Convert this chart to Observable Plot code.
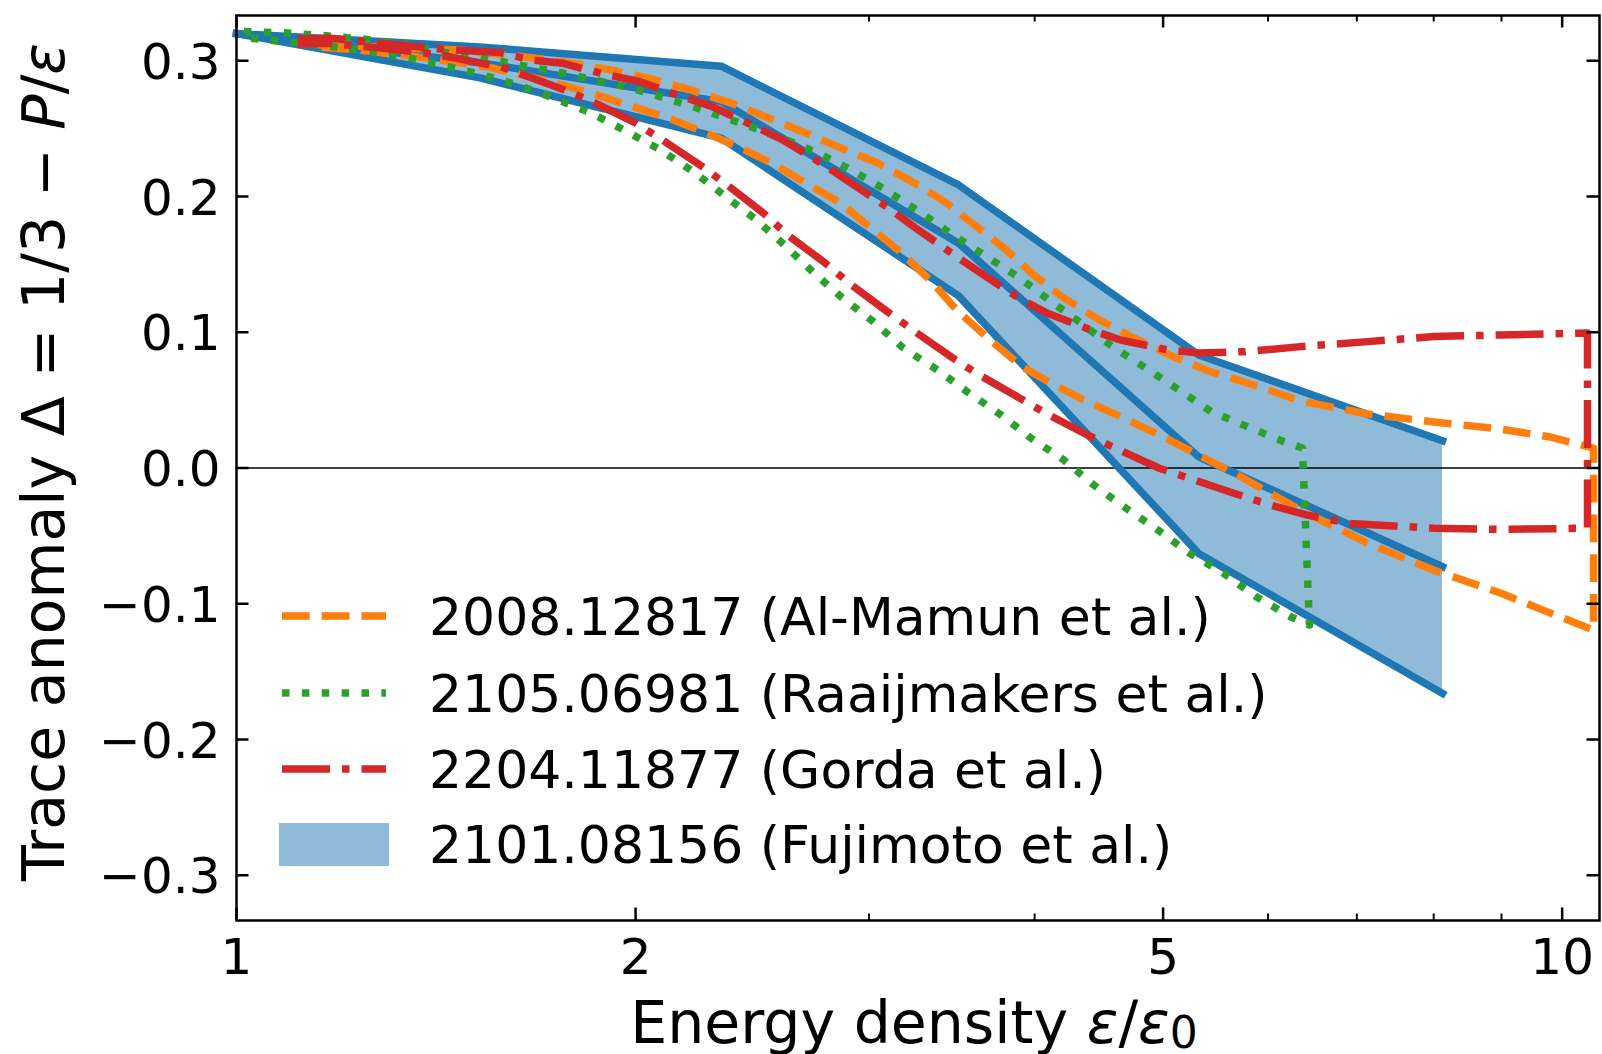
<!DOCTYPE html>
<html>
<head>
<meta charset="utf-8">
<script src="https://cdn.jsdelivr.net/npm/d3@7"></script>
<script src="https://cdn.jsdelivr.net/npm/@observablehq/plot@0.6"></script>
<style>
  html, body { margin: 0; padding: 0; background: #fff; }
  svg { display: block; }
</style>
</head>
<body>
<div id="chart"></div>
<script>
// ---------------- data ----------------
const xMajor = [1, 2, 5, 10];
const xMinor = [3, 4, 6, 7, 8, 9];
const yTicks = [-0.3, -0.2, -0.1, 0, 0.1, 0.2, 0.3];

const legendLabels = [
  "2008.12817 (Al-Mamun et al.)",
  "2105.06981 (Raaijmakers et al.)",
  "2204.11877 (Gorda et al.)",
  "2101.08156 (Fujimoto et al.)"
];

// Al-Mamun et al. band edges
const alMamunUpper = [[1.152,0.3117],[1.476,0.3080],[1.676,0.3021],[1.808,0.2976],[1.916,0.2933],[2.054,0.2867],[2.200,0.2786],[2.358,0.2690],[2.497,0.2594],[2.665,0.2483],[2.855,0.2358],[3.044,0.2248],[3.225,0.2115],[3.415,0.1968],[3.579,0.1813],[3.793,0.1621],[3.994,0.1422],[4.208,0.1253],[4.463,0.1098],[4.752,0.0958],[5.093,0.0818],[5.436,0.0707],[5.820,0.0619],[6.347,0.0494],[7.130,0.0398],[8.000,0.0339],[8.984,0.0287],[9.799,0.0228],[10.56,0.0147]];
const alMamunLower = [[1.152,0.3102],[1.234,0.3080],[1.353,0.3036],[1.547,0.2955],[1.726,0.2844],[1.850,0.2763],[1.983,0.2667],[2.115,0.2579],[2.251,0.2476],[2.400,0.2358],[2.540,0.2240],[2.696,0.2093],[2.855,0.1953],[3.008,0.1769],[3.168,0.1592],[3.340,0.1379],[3.499,0.1157],[3.688,0.0958],[3.906,0.0752],[4.114,0.0626],[4.356,0.0501],[4.670,0.0368],[5.004,0.0228],[5.338,0.0088],[5.725,-0.0066],[6.347,-0.0310],[7.130,-0.0553],[8.000,-0.0752],[8.984,-0.0921],[9.799,-0.1069],[10.56,-0.1194]];

// Raaijmakers et al. band edges
const raaijUpper = [[1.013,0.3215],[1.084,0.3206],[1.162,0.3186],[1.245,0.3161],[1.330,0.3125],[1.421,0.3066],[1.520,0.3031],[1.629,0.2970],[1.741,0.2920],[1.860,0.2859],[1.983,0.2800],[2.126,0.2712],[2.266,0.2626],[2.421,0.2528],[2.576,0.2432],[2.744,0.2321],[2.908,0.2196],[3.087,0.2049],[3.273,0.1889],[3.470,0.1717],[3.662,0.1570],[3.884,0.1410],[4.100,0.1238],[4.334,0.1069],[4.579,0.0894],[4.851,0.0737],[5.140,0.0575],[5.436,0.0415],[5.796,0.0302],[6.166,0.0194],[6.369,0.0147]];
const raaijLower = [[1.016,0.3169],[1.089,0.3141],[1.168,0.3110],[1.247,0.3075],[1.335,0.3029],[1.426,0.2970],[1.523,0.2903],[1.629,0.2822],[1.734,0.2726],[1.850,0.2616],[1.959,0.2491],[2.089,0.2343],[2.212,0.2181],[2.330,0.2012],[2.462,0.1835],[2.590,0.1643],[2.719,0.1447],[2.864,0.1253],[3.023,0.1078],[3.184,0.0884],[3.379,0.0722],[3.568,0.0553],[3.773,0.0391],[3.973,0.0221],[4.208,0.0059],[4.432,-0.0125],[4.686,-0.0295],[4.956,-0.0457],[5.231,-0.0626],[5.549,-0.0774],[5.877,-0.0948],[6.240,-0.1096],[6.447,-0.1157]];

// Gorda et al. band edges
const gordaUpper = [[1.112,0.3161],[1.178,0.3165],[1.247,0.3141],[1.323,0.3117],[1.401,0.3093],[1.484,0.3075],[1.582,0.3060],[1.667,0.3007],[1.761,0.2982],[1.904,0.2896],[2.013,0.2847],[2.169,0.2736],[2.285,0.2662],[2.462,0.2515],[2.582,0.2417],[2.774,0.2233],[2.908,0.2098],[3.105,0.1914],[3.255,0.1766],[3.478,0.1570],[3.643,0.1435],[3.893,0.1251],[4.090,0.1140],[4.410,0.1017],[4.645,0.0943],[5.037,0.0870],[5.320,0.0848],[5.770,0.0857],[6.347,0.0894],[7.130,0.0931],[8.000,0.0968],[8.984,0.0980],[10.32,0.0993],[10.45,0.0995]];
const gordaLower = [[1.112,0.3124],[1.178,0.3128],[1.285,0.3093],[1.360,0.3068],[1.443,0.3031],[1.528,0.2982],[1.582,0.2957],[1.633,0.2909],[1.766,0.2786],[1.855,0.2699],[2.001,0.2540],[2.095,0.2417],[2.246,0.2220],[2.345,0.2085],[2.498,0.1877],[2.604,0.1717],[2.782,0.1508],[2.899,0.1361],[3.097,0.1152],[3.236,0.1017],[3.458,0.0820],[3.622,0.0693],[3.882,0.0525],[4.078,0.0403],[4.384,0.0243],[4.605,0.0145],[4.967,-0.0002],[5.233,-0.0076],[5.654,-0.0186],[6.026,-0.0273],[6.425,-0.0347],[6.922,-0.0408],[8.000,-0.0444],[8.984,-0.0452],[10.38,-0.0444],[10.45,-0.0442]];

// Fujimoto et al. band
const fujimotoX   = [1, 1.526, 2.321, 3.505, 5.318, 8.123];
const fujimotoHi  = [0.320, 0.3102, 0.2960, 0.2085, 0.0833, 0.0201];
const fujimotoMid = [0.320, 0.2985, 0.2699, 0.1656, 0.0083, -0.0727];
const fujimotoLo  = [0.320, 0.2874, 0.2430, 0.1268, -0.0629, -0.1660];

// ---------------- build tables ----------------
const contour = (upper, lower) =>
  [...upper, ...lower.slice().reverse()].map(([x, y]) => ({x, y}));
const alMamun = contour(alMamunUpper, alMamunLower);
const raaij = contour(raaijUpper, raaijLower);
const gorda = contour(gordaUpper, gordaLower);
const fujimoto = fujimotoX.map((x, i) => ({x, hi: fujimotoHi[i], mid: fujimotoMid[i], lo: fujimotoLo[i]}));

// ---------------- layout / style ----------------
const W = 1602, H = 1054;
const mL = 236, mR = 3, mT = 15, mB = 134;
const frameW = W - mL - mR, frameH = H - mT - mB;
const FONT = "DejaVu Sans";
const LW = 7.5;
const C = {orange: "#ff7f0e", green: "#2ca02c", red: "#d62728", blue: "#1f77b4"};
const DASH = {
  dashed: `${3.7*LW} ${1.6*LW}`,
  dotted: `${1*LW} ${1.65*LW}`,
  dashdot: `${6.4*LW} ${1.6*LW} ${1*LW} ${1.6*LW}`
};
const fmtY = d => (d < 0 ? "\u2212" : "") + Math.abs(d).toFixed(1);
const majorLen = 12.5, minorLen = 6.5;

const plot = Plot.plot({
  width: W, height: H,
  marginLeft: mL, marginRight: mR, marginTop: mT, marginBottom: mB,
  x: {type: "log", domain: [1, 10.67], axis: null},
  y: {domain: [-1/3, 1/3], axis: null},
  style: {fontFamily: FONT, background: "white", color: "black", overflow: "visible"},
  marks: [
    Plot.areaY(fujimoto, {x: "x", y1: "lo", y2: "hi", fill: C.blue, fillOpacity: 0.5}),
    Plot.ruleY([0], {stroke: "black", strokeWidth: 1.5}),
    Plot.line(fujimoto, {x: "x", y: "hi", stroke: C.blue, strokeWidth: LW, strokeLinecap: "square", strokeLinejoin: "round"}),
    Plot.line(fujimoto, {x: "x", y: "mid", stroke: C.blue, strokeWidth: LW, strokeLinecap: "square", strokeLinejoin: "round"}),
    Plot.line(fujimoto, {x: "x", y: "lo", stroke: C.blue, strokeWidth: LW, strokeLinecap: "square", strokeLinejoin: "round"}),
    Plot.line(alMamun, {x: "x", y: "y", stroke: C.orange, strokeWidth: LW, strokeDasharray: DASH.dashed, strokeLinecap: "butt", strokeLinejoin: "round", clip: true}),
    Plot.line(raaij, {x: "x", y: "y", stroke: C.green, strokeWidth: LW, strokeDasharray: DASH.dotted, strokeLinecap: "butt", strokeLinejoin: "round", clip: true}),
    Plot.line(gorda, {x: "x", y: "y", stroke: C.red, strokeWidth: LW, strokeDasharray: DASH.dashdot, strokeLinecap: "butt", strokeLinejoin: "round", clip: true}),
    Plot.frame({stroke: "black", strokeWidth: 2.5}),
    // inward ticks, all four sides
    Plot.tickX(xMajor, {x: d => d, stroke: "black", strokeWidth: 2.5, insetTop: frameH - majorLen}),
    Plot.tickX(xMajor, {x: d => d, stroke: "black", strokeWidth: 2.5, insetBottom: frameH - majorLen}),
    Plot.tickX(xMinor, {x: d => d, stroke: "black", strokeWidth: 2, insetTop: frameH - minorLen}),
    Plot.tickX(xMinor, {x: d => d, stroke: "black", strokeWidth: 2, insetBottom: frameH - minorLen}),
    Plot.tickY(yTicks, {y: d => d, stroke: "black", strokeWidth: 2.5, insetRight: frameW - majorLen}),
    Plot.tickY(yTicks, {y: d => d, stroke: "black", strokeWidth: 2.5, insetLeft: frameW - majorLen}),
    // tick labels
    Plot.text(xMajor, {x: d => d, frameAnchor: "bottom", lineAnchor: "top", dy: 17.5, text: d => String(d), fontSize: 50, fill: "black"}),
    Plot.text(yTicks, {y: d => d, frameAnchor: "left", textAnchor: "end", dx: -16, dy: 2, text: fmtY, fontSize: 50, fill: "black"})
  ]
});

document.getElementById("chart").appendChild(plot);

// ---------------- axis titles and legend ----------------
const svg = d3.select(plot);
const g = svg.append("g")
  .attr("font-family", FONT)
  .attr("fill", "black")
  .attr("text-anchor", "start")
  .style("white-space", "pre");

// y-axis label
const yl = g.append("text")
  .attr("transform", "translate(64,462) rotate(-90)")
  .attr("text-anchor", "middle")
  .attr("font-size", 58.5);
yl.append("tspan").text("Trace anomaly \u0394 = 1/3 \u2212 ");
yl.append("tspan").attr("font-style", "italic").text("P");
yl.append("tspan").text("/");
yl.append("tspan").attr("font-style", "italic").text("\u03b5");

// x-axis label
const xl = g.append("text")
  .attr("x", 914).attr("y", 1043)
  .attr("text-anchor", "middle")
  .attr("font-size", 58.5);
xl.append("tspan").text("Energy density ");
xl.append("tspan").attr("font-style", "italic").text("\u03b5");
xl.append("tspan").text("/");
xl.append("tspan").attr("font-style", "italic").text("\u03b5");
xl.append("tspan").attr("font-size", 44).attr("dy", 5).text("0");

// legend
const legendRows = [
  {kind: "line", color: C.orange, dash: DASH.dashed, cy: 616, base: 635},
  {kind: "line", color: C.green, dash: DASH.dotted, cy: 693, base: 712},
  {kind: "line", color: C.red, dash: DASH.dashdot, cy: 769, base: 788},
  {kind: "patch", color: C.blue, cy: 845, base: 863}
];
legendRows.forEach((r, i) => {
  if (r.kind === "line") {
    g.append("line")
      .attr("x1", 282).attr("x2", 386).attr("y1", r.cy).attr("y2", r.cy)
      .attr("stroke", r.color).attr("stroke-width", LW)
      .attr("stroke-dasharray", r.dash).attr("stroke-linecap", "butt");
  } else {
    g.append("rect")
      .attr("x", 279).attr("y", 823).attr("width", 110).attr("height", 43)
      .attr("fill", r.color).attr("fill-opacity", 0.5);
  }
  g.append("text")
    .attr("x", 429).attr("y", r.base)
    .attr("text-anchor", "start")
    .attr("font-size", 52)
    .text(legendLabels[i]);
});
</script>
</body>
</html>
